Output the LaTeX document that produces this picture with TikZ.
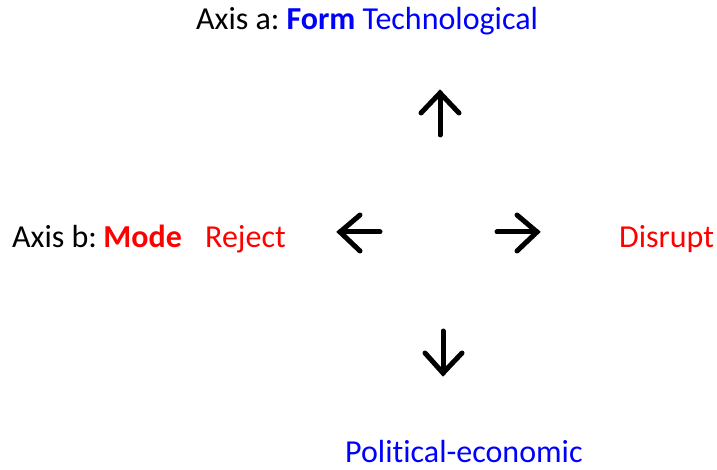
\documentclass[tikz,border=0pt]{standalone}
\usepackage{fontspec}
\setmainfont[Ligatures=NoCommon]{Carlito}
\definecolor{formblue}{RGB}{0,0,255}
\definecolor{modered}{RGB}{255,0,0}
\tikzset{
  lbl/.style={anchor=base west, inner sep=0pt, font=\fontsize{32}{36}\selectfont},
  glyph/.style={line width=5pt, line cap=round, line join=miter}
}
\begin{document}
\begin{tikzpicture}[x=1pt,y=1pt]
\useasboundingbox (0,0) rectangle (717,469);
% axis titles and pole labels
\node[lbl] (axisa) at (196,439) {Axis a:\hspace{0.22em}\textcolor{formblue}{\textbf{Form} Technological}};
\node[lbl] (axisb) at (12,222) {Axis b:\hspace{0.2em}\textcolor{modered}{\textbf{Mode}}};
\node[lbl, text=modered] (reject) at (205,222) {Reject};
\node[lbl, text=modered] (disrupt) at (619,222) {Disrupt};
\node[lbl, text=formblue, text depth=0pt] (polit) at (345,7) {Political-economic};
% up arrow
\draw[glyph] (440,334) -- (440,376);
\draw[glyph] (421,356) -- (440,376) -- (459,356);
% left arrow
\draw[glyph] (380,237) -- (340,237);
\draw[glyph] (360,254) -- (340,237) -- (360,218);
% right arrow
\draw[glyph] (497,237) -- (537,237);
\draw[glyph] (517,254) -- (537,237) -- (517,218);
% down arrow
\draw[glyph] (443,138) -- (443,96);
\draw[glyph] (425,116) -- (443,96) -- (462,116);
\end{tikzpicture}
\end{document}
